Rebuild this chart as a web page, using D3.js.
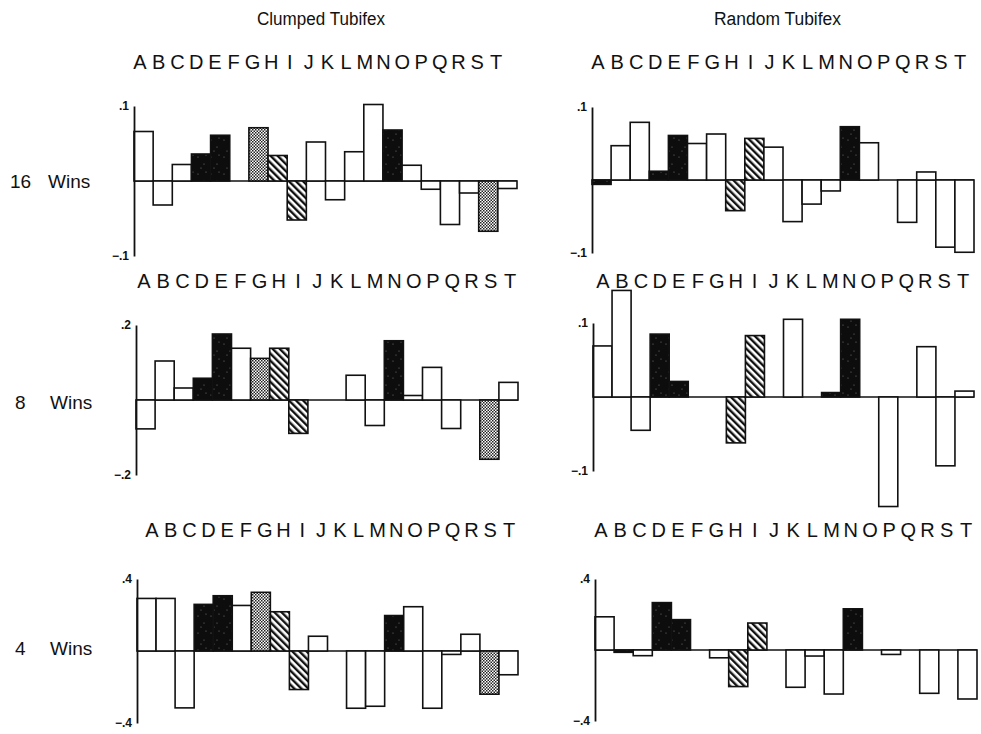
<!DOCTYPE html>
<html><head><meta charset="utf-8">
<script src="https://cdn.jsdelivr.net/npm/d3@7"></script>
<style>
body{margin:0;background:#fff;}
svg{display:block;}
</style></head>
<body>
<svg id="chart" width="981" height="734"></svg>
<script>
// ---------------- DATA ----------------
const letters = ["A","B","C","D","E","F","G","H","I","J","K","L","M","N","O","P","Q","R","S","T"];
const columnTitles = ["Clumped Tubifex", "Random Tubifex"];
const rowNumbers = ["16", "8", "4"];
const rowWord = "Wins";
const clumpedAxisMax = [0.1, 0.2, 0.4];
const randomAxisMax = [0.1, 0.1, 0.4];

const clumped16 = [0.066,-0.032,0.022,0.036,0.061,0,0.071,0.034,-0.052,0.052,-0.025,0.039,0.102,0.068,0.021,-0.011,-0.058,-0.016,-0.067,-0.010];
const random16  = [-0.006,0.047,0.079,0.012,0.061,0.050,0.063,-0.042,0.057,0.045,-0.057,-0.033,-0.015,0.073,0.051,0,-0.058,0.011,-0.092,-0.099];
const clumped8  = [-0.077,0.104,0.032,0.058,0.176,0.138,0.111,0.138,-0.089,0,0,0.066,-0.068,0.158,0.012,0.087,-0.076,0,-0.158,0.047];
const random8   = [0.069,0.144,-0.045,0.085,0.021,0,0,-0.062,0.083,0,0.105,0,0.006,0.105,0,-0.148,0,0.068,-0.093,0.008];
const clumped4  = [0.292,0.292,-0.316,0.259,0.307,0.253,0.326,0.218,-0.214,0.082,0,-0.318,-0.307,0.197,0.246,-0.318,-0.019,0.093,-0.240,-0.132];
const random4   = [0.187,-0.013,-0.032,0.267,0.171,0,-0.044,-0.206,0.152,0,-0.210,-0.034,-0.248,0.232,0,-0.025,0,-0.244,0,-0.276];

// bar kind: w = open, b = solid, s = stippled, h = hatched
const kindClumped  = ["w","w","w","b","b","w","s","h","h","w","w","w","w","b","w","w","w","w","s","w"];
const kindRandom16 = ["b","w","w","b","b","w","w","h","h","w","w","w","w","b","w","w","w","w","w","w"];
const kindRandom8  = ["w","w","w","b","b","w","w","h","h","w","w","w","b","b","w","w","w","w","w","w"];
const kindRandom4  = ["w","b","w","b","b","w","w","h","h","w","w","w","w","b","w","w","w","w","w","w"];

// ---------------- LAYOUT ----------------
const panels = [
  {values: clumped16, kinds: kindClumped,  max: clumpedAxisMax[0], x0:134, x1:517, zy:181, half:75, hdr:[140,496,69]},
  {values: random16,  kinds: kindRandom16, max: randomAxisMax[0],  x0:592, x1:974, zy:180, half:73, hdr:[598,960,69]},
  {values: clumped8,  kinds: kindClumped,  max: clumpedAxisMax[1], x0:136, x1:518, zy:400, half:75, hdr:[144,510,288]},
  {values: random8,   kinds: kindRandom8,  max: randomAxisMax[1],  x0:593, x1:974, zy:397, half:74, hdr:[603,963,288]},
  {values: clumped4,  kinds: kindClumped,  max: clumpedAxisMax[2], x0:137, x1:518, zy:651, half:72, hdr:[152,509,537]},
  {values: random4,   kinds: kindRandom4,  max: randomAxisMax[2],  x0:595, x1:977, zy:650, half:71, hdr:[601,966,537]}
];

const svg = d3.select("#chart");
const defs = svg.append("defs");

// stipple pattern
const st = defs.append("pattern").attr("id","stipple").attr("patternUnits","userSpaceOnUse")
  .attr("width",3).attr("height",3);
st.append("rect").attr("width",3).attr("height",3).attr("fill","#fff");
st.append("rect").attr("width",1.5).attr("height",1.5).attr("fill","#222");
st.append("rect").attr("x",1.5).attr("y",1.5).attr("width",1.5).attr("height",1.5).attr("fill","#222");

// hatch pattern (lines from top-left to bottom-right)
const hp = defs.append("pattern").attr("id","hatch").attr("patternUnits","userSpaceOnUse")
  .attr("width",5).attr("height",5).attr("patternTransform","rotate(-45)");
hp.append("rect").attr("width",5).attr("height",5).attr("fill","#fff");
hp.append("rect").attr("x",0).attr("width",2.4).attr("height",5).attr("fill","#111");

// speckled solid pattern
const sp = defs.append("pattern").attr("id","solid").attr("patternUnits","userSpaceOnUse")
  .attr("width",13).attr("height",17);
sp.append("rect").attr("width",13).attr("height",17).attr("fill","#0d0d0d");
[[3,4],[9,11],[6,15],[11,2]].forEach(([cx,cy])=>sp.append("circle").attr("cx",cx).attr("cy",cy).attr("r",0.6).attr("fill","#777"));

const fillScale = d3.scaleOrdinal().domain(["w","b","s","h"])
  .range(["#ffffff","url(#solid)","url(#stipple)","url(#hatch)"]);

const fmt = d => (d3.format(".1f")(d)).replace("0.", ".");
const font = "'Liberation Sans', Arial, sans-serif";

// column titles
svg.selectAll("text.title").data(columnTitles).join("text")
  .attr("class","title")
  .attr("x",(d,i)=> i===0 ? 257 : 714)
  .attr("y",25)
  .attr("textLength",(d,i)=> i===0 ? 128 : 127)
  .attr("lengthAdjust","spacingAndGlyphs")
  .style("font-family",font)
  .style("font-size","18px")
  .attr("fill","#111")
  .text(d=>d);

// row labels
const rowY = [188, 409, 655];
rowNumbers.forEach((n,i)=>{
  svg.append("text").attr("x", i===0?10:15).attr("y",rowY[i])
    .style("font-family",font).style("font-size","19px").attr("fill","#111").text(n);
  svg.append("text").attr("x", i===0?48:50).attr("y",rowY[i])
    .style("font-family",font).style("font-size","19px").attr("fill","#111").text(rowWord);
});

panels.forEach(p=>{
  const g = svg.append("g");
  const x = d3.scaleBand().domain(letters).range([p.x0,p.x1]).padding(0);
  const y = d3.scaleLinear().domain([-p.max,p.max]).range([p.zy+p.half, p.zy-p.half]);

  // letter header
  const hx = d3.scalePoint().domain(letters).range([p.hdr[0],p.hdr[1]]);
  g.selectAll("text.hdr").data(letters).join("text")
    .attr("class","hdr")
    .attr("x",d=>hx(d)).attr("y",p.hdr[2])
    .attr("text-anchor","middle")
    .style("font-family",font).style("font-size","20px")
    .attr("fill","#111").text(d=>d);

  // zero line
  g.append("line")
    .attr("x1",p.x0).attr("x2",p.x1)
    .attr("y1",y(0)).attr("y2",y(0))
    .attr("stroke","#111").attr("stroke-width",1.4);

  // bars
  const data = letters.map((l,i)=>({l, v:p.values[i], k:p.kinds[i]}));
  g.selectAll("rect.bar").data(data.filter(d=>d.v!==0)).join("rect")
    .attr("class","bar")
    .attr("x",d=>x(d.l))
    .attr("width",x.bandwidth())
    .attr("y",d=>Math.min(y(d.v),y(0)))
    .attr("height",d=>Math.abs(y(d.v)-y(0)))
    .attr("fill",d=>fillScale(d.k))
    .attr("stroke","#111").attr("stroke-width",1.6);

  // axis
  const ax = d3.axisLeft(y).tickValues([p.max,-p.max]).tickFormat(fmt).tickSize(0).tickPadding(5);
  const axg = g.append("g").attr("transform",`translate(${p.x0},0)`).call(ax);
  axg.select(".domain").attr("stroke","#111").attr("stroke-width",1.8);
  axg.selectAll("text").style("font-family",font).style("font-size","12px").style("font-weight","bold").attr("fill","#111");
});
</script>
</body></html>
